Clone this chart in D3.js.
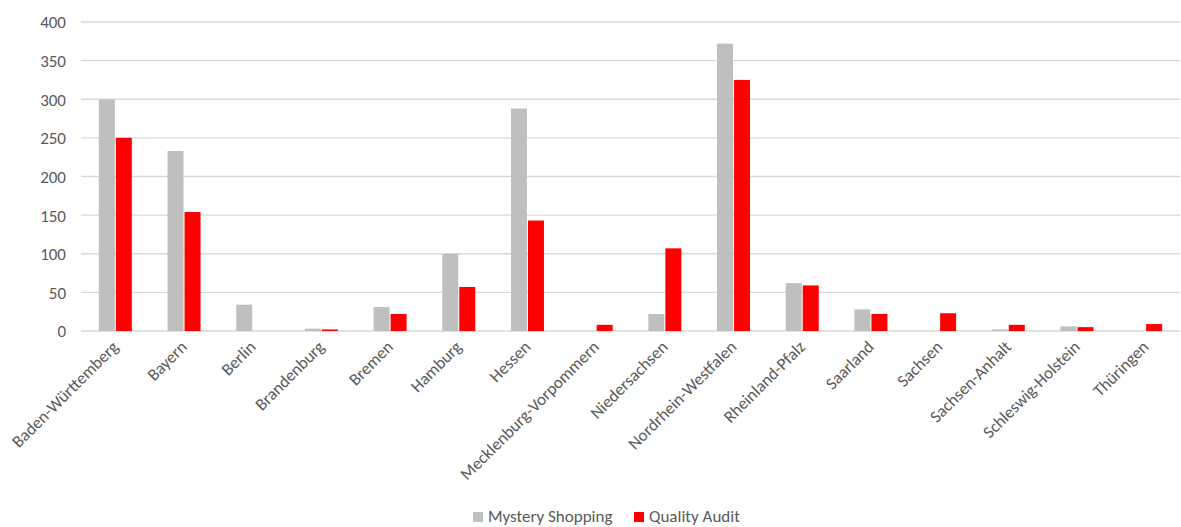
<!DOCTYPE html>
<html>
<head>
<meta charset="utf-8">
<script src="https://cdn.jsdelivr.net/npm/d3@7"></script>
<style>
  body { margin: 0; background: #fff; }
  text { font-family: Carlito, "Open Sans", sans-serif; fill: #595959; }
</style>
</head>
<body>
<div id="chart"></div>
<script>
const states = ["Baden-Württemberg", "Bayern", "Berlin", "Brandenburg", "Bremen", "Hamburg", "Hessen",
  "Mecklenburg-Vorpommern", "Niedersachsen", "Nordrhein-Westfalen", "Rheinland-Pfalz", "Saarland",
  "Sachsen", "Sachsen-Anhalt", "Schleswig-Holstein", "Thüringen"]
const mysteryShopping = [300, 233, 34, 3, 31, 100, 288, 0, 22, 372, 62, 28, 0, 2, 6, 0]
const qualityAudit = [250, 154, 0, 2, 22, 57, 143, 8, 107, 325, 59, 22, 23, 8, 5, 9]
const seriesNames = ["Mystery Shopping", "Quality Audit"]
const colors = ["#bfbfbf", "#ff0000"]
const yTicks = [0, 50, 100, 150, 200, 250, 300, 350, 400]

const width = 1181, height = 527
const margin = {left: 81, right: 1, top: 22, bottom: 196}

const svg = d3.select('#chart').append('svg')
  .attr('width', width).attr('height', height)

const x = d3.scaleBand().domain(states).range([margin.left, width - margin.right])
const x1 = d3.scaleBand().domain(seriesNames).range([0, x.bandwidth()]).paddingInner(0.06).paddingOuter(1.05)
const y = d3.scaleLinear().domain([0, 400]).range([height - margin.bottom, margin.top])

// gridlines
svg.append('g')
  .selectAll('line')
  .data(yTicks)
  .join('line')
  .attr('x1', margin.left).attr('x2', width - margin.right)
  .attr('y1', d => y(d)).attr('y2', d => y(d))
  .attr('stroke', '#d9d9d9').attr('stroke-width', 1.4)

// y labels
const yAxis = svg.append('g')
  .attr('transform', `translate(${margin.left - 15},0)`)
  .call(d3.axisLeft(y).tickValues(yTicks).tickSize(0).tickPadding(0))
yAxis.select('.domain').remove()
yAxis.selectAll('text').attr('font-size', 17).attr('dy', '0.35em')
  .style('font-family', 'Carlito, "Open Sans", sans-serif').style('fill', '#595959')

const rows = states.map((s, i) => ({state: s, values: [mysteryShopping[i], qualityAudit[i]]}))

const groups = svg.append('g').selectAll('g')
  .data(rows)
  .join('g')
  .attr('transform', d => `translate(${x(d.state)},0)`)

groups.selectAll('rect')
  .data(d => d.values.map((v, i) => ({name: seriesNames[i], value: v, i})))
  .join('rect')
  .filter(d => d.value > 0)
  .attr('x', d => x1(d.name))
  .attr('width', x1.bandwidth())
  .attr('y', d => y(d.value))
  .attr('height', d => y(0) - y(d.value))
  .attr('fill', d => colors[d.i])

// x labels
const xAxis = svg.append('g')
  .attr('transform', `translate(0,${y(0)})`)
  .call(d3.axisBottom(x).tickSize(0).tickPadding(0))
xAxis.select('.domain').remove()
xAxis.selectAll('text')
  .attr('font-size', 17)
  .attr('text-anchor', 'end')
  .attr('dy', 0)
  .attr('transform', 'translate(4,17) rotate(-45)')
  .style('font-family', 'Carlito, "Open Sans", sans-serif').style('fill', '#595959')

// legend
const legend = svg.append('g').attr('transform', `translate(0,522)`)
const legendX = [473, 634]
seriesNames.forEach((n, i) => {
  legend.append('rect').attr('x', legendX[i]).attr('y', -10).attr('width', 10).attr('height', 10).attr('fill', colors[i])
  legend.append('text').attr('x', legendX[i] + 15).attr('y', 0).attr('font-size', 17).text(n)
})
</script>
</body>
</html>
